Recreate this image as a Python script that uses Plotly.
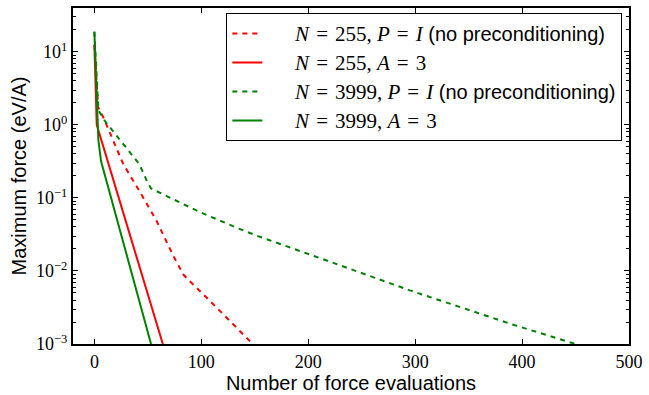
import plotly.graph_objects as go

# ---- data ----
red_pi_x = [0, 3.5, 8, 16, 27, 42, 58, 73, 83, 88, 95, 120, 148]
red_pi_y = [12.5, 1.75, 1.3, 0.70, 0.29, 0.125, 0.049, 0.017, 0.0090, 0.0075, 0.0060, 0.0026, 0.0010]

red_a3_x = [0, 2.2, 64]
red_a3_y = [12.5, 1.0, 0.001]

green_pi_x = [0, 3.7, 10, 27, 42, 50, 53, 61, 82, 98, 135, 153, 216, 295, 390, 450]
green_pi_y = [19.0, 1.6, 1.12, 0.54, 0.29, 0.16, 0.135, 0.118, 0.083, 0.0646, 0.038, 0.030,
              0.0141, 0.00543, 0.00187, 0.0010]

green_a3_x = [0, 2.2, 3.7, 6.2, 30, 53]
green_a3_y = [18.7, 1.6, 0.63, 0.32, 0.017, 0.001]

y_tick_vals = [1e-3, 1e-2, 1e-1, 1e0, 1e1]
y_tick_text = ["10<sup>−3</sup>", "10<sup>−2</sup>", "10<sup>−1</sup>", "10<sup>0</sup>", "10<sup>1</sup>"]
x_tick_vals = [0, 100, 200, 300, 400, 500]

RED = "#ff0000"
GREEN = "#008000"
SERIF = "Liberation Serif"
SANS = "Liberation Sans"
SP = "\u2004"  # slightly wider space, like TeX's spacing around '='


def m(s):
    return f'<span style="font-family:{SERIF};font-size:21px">{s}</span>'


def it(s):
    return f'<span style="font-family:{SERIF};font-size:21px"><i>{s}</i></span>'


EQ = m(SP + "=" + SP)
pad = "&nbsp;&nbsp;&nbsp;&nbsp;&nbsp;"
names = [
    pad + it("N") + EQ + m("255, ") + it("P") + EQ + it("I") + " (no preconditioning)",
    pad + it("N") + EQ + m("255, ") + it("A") + EQ + m("3"),
    pad + it("N") + EQ + m("3999, ") + it("P") + EQ + it("I") + " (no preconditioning)",
    pad + it("N") + EQ + m("3999, ") + it("A") + EQ + m("3"),
]

fig = go.Figure()
fig.add_trace(go.Scatter(x=red_pi_x, y=red_pi_y, mode="lines", name=names[0],
                         line=dict(color=RED, width=2, dash="5px,5px")))
fig.add_trace(go.Scatter(x=red_a3_x, y=red_a3_y, mode="lines", name=names[1],
                         line=dict(color=RED, width=2)))
fig.add_trace(go.Scatter(x=green_pi_x, y=green_pi_y, mode="lines", name=names[2],
                         line=dict(color=GREEN, width=2, dash="5px,5px")))
fig.add_trace(go.Scatter(x=green_a3_x, y=green_a3_y, mode="lines", name=names[3],
                         line=dict(color=GREEN, width=2)))

minor_vals = [k * 10 ** e for e in range(-3, 2) for k in range(2, 10)]

fig.update_layout(
    width=649, height=395,
    margin=dict(l=73, r=13, t=6, b=51),
    paper_bgcolor="white", plot_bgcolor="white",
    font=dict(family=SANS, size=18, color="black"),
    showlegend=True,
    legend=dict(
        x=0.988, xanchor="right", y=0.985, yanchor="top",
        bordercolor="black", borderwidth=1, bgcolor="white",
        font=dict(family=SANS, size=20, color="black"),
        tracegroupgap=0,
    ),
    xaxis=dict(
        range=[-20, 500], showgrid=False, zeroline=False,
        tickmode="array", tickvals=x_tick_vals,
        ticks="inside", ticklen=5, tickwidth=1, tickcolor="black",
        showline=True, linecolor="black", linewidth=2, mirror="allticks",
        tickfont=dict(family=SERIF, size=18), ticklabeloverflow="allow",
        title=dict(text="Number of force evaluations", font=dict(family=SANS, size=20), standoff=0),
    ),
    yaxis=dict(
        type="log", range=[-3, 1.6], showgrid=False, zeroline=False,
        tickmode="array", tickvals=y_tick_vals, ticktext=y_tick_text,
        ticks="inside", ticklen=5, tickwidth=1, tickcolor="black",
        showline=True, linecolor="black", linewidth=2, mirror="allticks",
        tickfont=dict(family=SERIF, size=18),
        minor=dict(tickmode="array", tickvals=minor_vals, ticks="inside", ticklen=3,
                   tickwidth=1, tickcolor="black", showgrid=False),
        title=dict(text="Maximum force (eV/A)", font=dict(family=SANS, size=20), standoff=4),
    ),
)

fig.write_html("out.html")
